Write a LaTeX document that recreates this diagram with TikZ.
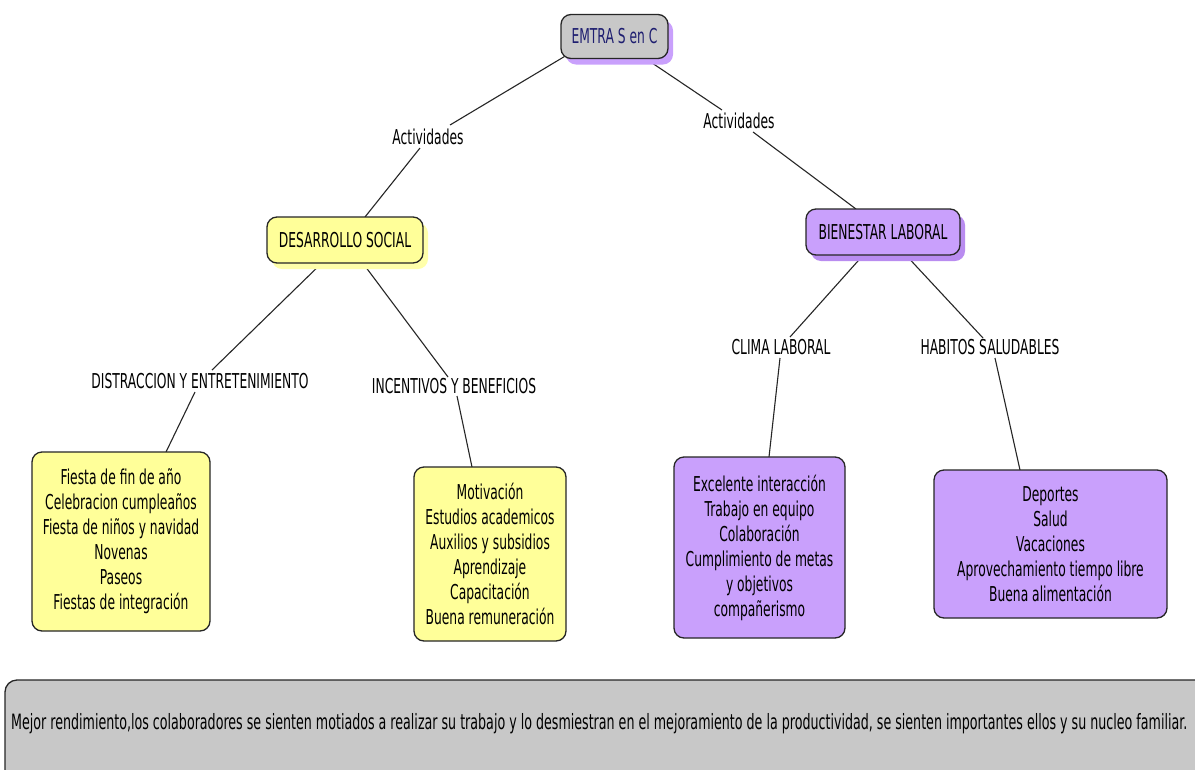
\documentclass[tikz,border=0pt]{standalone}
\usepackage{fontspec}
\setmainfont{DejaVu Sans}[FakeStretch=0.60]
\usetikzlibrary{shadows}
\definecolor{yel}{HTML}{FFFF99}
\definecolor{yelsh}{HTML}{FFFFAA}
\definecolor{pur}{HTML}{C9A0FC}
\definecolor{pursh}{HTML}{B98CF0}
\definecolor{gr}{HTML}{C8C8C8}
\definecolor{navy}{HTML}{1E1E70}
\begin{document}
\begin{tikzpicture}[x=1pt,y=-1pt,
  concept/.style={draw=black!85, line width=1.3pt, rounded corners=10pt, align=center,
    font=\fontsize{20.5}{25}\selectfont, inner sep=0pt},
  lbl/.style={font=\fontsize{20.5}{24}\selectfont, inner sep=1pt},
  conn/.style={line width=1.1pt, black!85},
  shp/.style={drop shadow={shadow xshift=5pt, shadow yshift=-6pt, opacity=1, fill=#1}}]
\useasboundingbox (0,0) rectangle (1195,769);
\fill[white] (0,0) rectangle (1195,769);

% labels
\node[lbl] (actL) at (428,137) {Actividades};
\node[lbl] (actR) at (739,121) {Actividades};
\node[lbl] (dist) at (200,381) {DISTRACCION Y ENTRETENIMIENTO};
\node[lbl] (inc) at (454,386) {INCENTIVOS Y BENEFICIOS};
\node[lbl] (clima) at (781,347) {CLIMA LABORAL};
\node[lbl] (hab) at (990,347) {HABITOS SALUDABLES};

% centers of concepts
\coordinate (rootc) at (614.5,36.5);
\coordinate (desc) at (345,240);
\coordinate (bienc) at (883,232);
\coordinate (b1c) at (121,541.5);
\coordinate (b2c) at (490,554);
\coordinate (b3c) at (759.5,547.5);
\coordinate (b4c) at (1050.5,544);

% connectors
\draw[conn] ([shift={(-50,20)}]rootc) -- ([shift={(22,-12)}]actL.center);
\draw[conn] ([shift={(-8,11)}]actL.center) -- ([shift={(20,-23)}]desc);
\draw[conn] ([shift={(25,18)}]rootc) -- ([shift={(-17,-11)}]actR.center);
\draw[conn] ([shift={(14,11)}]actR.center) -- ([shift={(-27,-23)}]bienc);
\draw[conn] ([shift={(-18,18)}]desc) -- ([shift={(12,-11)}]dist.center);
\draw[conn] ([shift={(-5,11)}]dist.center) -- ([shift={(45,-89.5)}]b1c);
\draw[conn] ([shift={(14,18)}]desc) -- ([shift={(-6,-9)}]inc.center);
\draw[conn] ([shift={(3,10)}]inc.center) -- ([shift={(-18,-87)}]b2c);
\draw[conn] ([shift={(-17,20)}]bienc) -- ([shift={(9,-10)}]clima.center);
\draw[conn] ([shift={(-1,11)}]clima.center) -- ([shift={(9.5,-90.5)}]b3c);
\draw[conn] ([shift={(20,20)}]bienc) -- ([shift={(-7,-9)}]hab.center);
\draw[conn] ([shift={(5,11)}]hab.center) -- ([shift={(-30.5,-74)}]b4c);

% concepts
\node[concept, fill=gr, text=navy, shp=pur, minimum width=107pt, minimum height=44pt] (root) at (rootc) {EMTRA S en C};
\node[concept, fill=yel, shp=yelsh, minimum width=156pt, minimum height=46pt] (des) at (desc) {DESARROLLO SOCIAL};
\node[concept, fill=pur, shp=pursh, minimum width=154pt, minimum height=46pt] (bien) at (bienc) {BIENESTAR LABORAL};
\node[concept, fill=yel, minimum width=178pt, minimum height=179pt] (b1) at (b1c)
  {Fiesta de fin de año\\Celebracion cumpleaños\\Fiesta de niños y navidad\\Novenas\\Paseos\\Fiestas de integración};
\node[concept, fill=yel, minimum width=152pt, minimum height=174pt] (b2) at (b2c)
  {Motivación\\Estudios academicos\\Auxilios y subsidios\\Aprendizaje\\Capacitación\\Buena remuneración};
\node[concept, fill=pur, minimum width=171pt, minimum height=181pt] (b3) at (b3c)
  {Excelente interacción\\Trabajo en equipo\\Colaboración\\Cumplimiento de metas\\y objetivos\\compañerismo};
\node[concept, fill=pur, minimum width=233pt, minimum height=148pt] (b4) at (b4c)
  {Deportes\\Salud\\Vacaciones\\Aprovechamiento tiempo libre\\Buena alimentación};

% bottom box
\begin{scope}
\clip (0,0) rectangle (1195,769);
\draw[line width=1.3pt, draw=black!85, fill=gr, rounded corners=12pt] (5,680) rectangle (1215,790);
\end{scope}
\node[lbl, anchor=west, font=\fontsize{21.1}{24}\selectfont] (concl) at (10,724)
  {Mejor rendimiento,los colaboradores se sienten motiados a realizar su trabajo y lo desmiestran en el mejoramiento de la productividad, se sienten importantes ellos y su nucleo familiar.};
\end{tikzpicture}
\end{document}
